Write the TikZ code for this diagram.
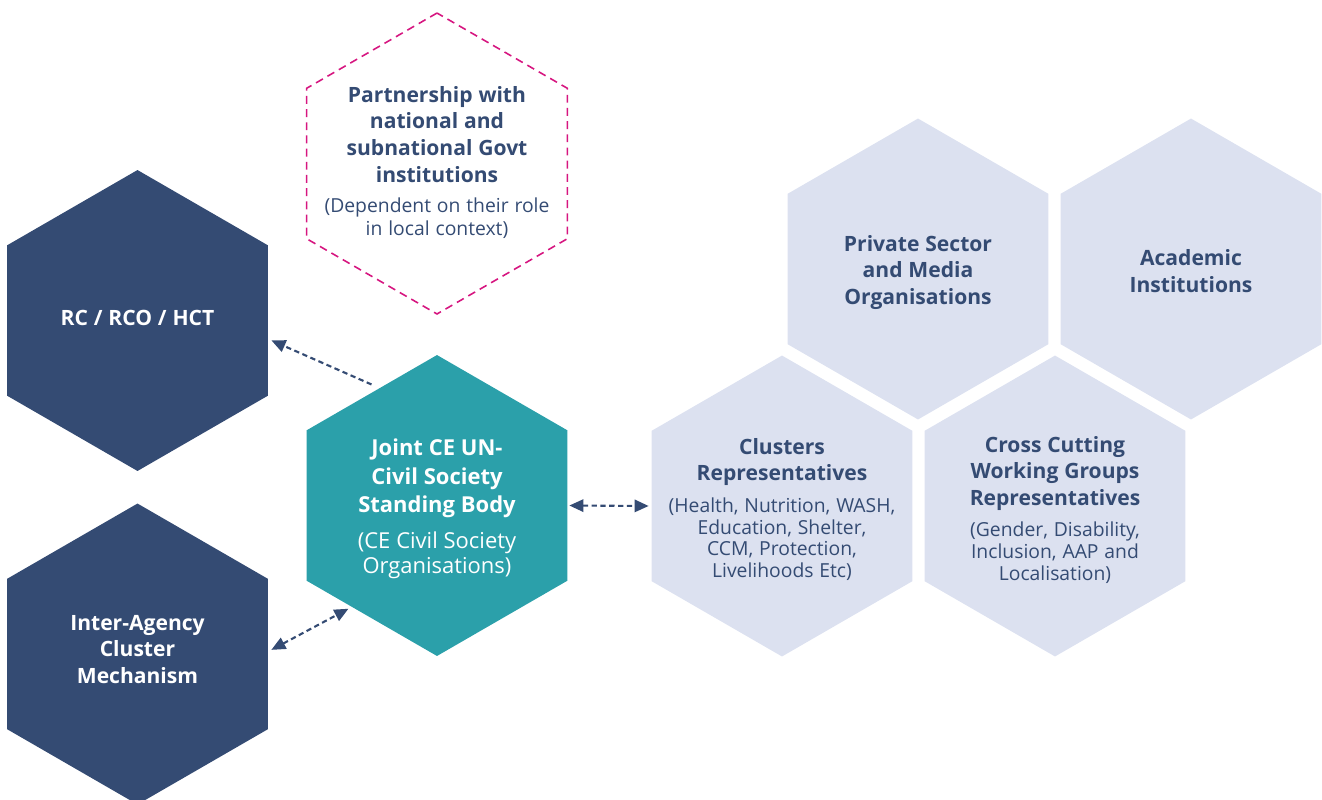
\documentclass[tikz,border=0pt]{standalone}
\usepackage{fontspec}
\setmainfont{Open Sans}
\usetikzlibrary{arrows.meta,shapes.geometric}
\definecolor{hexnavy}{RGB}{52,75,115}
\definecolor{hexteal}{RGB}{43,160,170}
\definecolor{hexpale}{RGB}{220,225,240}
\definecolor{govtpink}{RGB}{214,22,128}
\def\hexsize{6.02cm}
\newcommand\hextitle{\fontsize{12}{15}\selectfont\bfseries}
\newcommand\hexsub{\fontsize{11}{13}\selectfont\mdseries}
\tikzset{
	hex/.style={regular polygon, regular polygon sides=6, shape border rotate=30, minimum size=\hexsize, inner sep=0pt, outer sep=0pt},
	darkhex/.style={hex, fill=hexnavy},
	tealhex/.style={hex, fill=hexteal},
	palehex/.style={hex, fill=hexpale},
	govthex/.style={hex, draw=govtpink, line width=0.9pt, dash pattern=on 4.5pt off 3pt},
	hextxt/.style={text width=4.9cm, align=center, inner sep=0pt, text=hexnavy},
	link/.style={draw=hexnavy, line width=1.2pt, dash pattern=on 3pt off 2pt},
	hextip/.tip={Triangle[length=8pt, width=7pt]}
}

\begin{document}
\begin{tikzpicture}[x=0.02cm, y=-0.02cm]
		%%%%% START %%%%%
		\useasboundingbox (0, 0) rectangle (1322, 799);
		
		% left column
		\node[darkhex] (rc) at (137.5, 320.5) {};
		\node[darkhex] (iacm) at (137.5, 654) {};
		\node[hextxt, text=white] (rc-t) at (137.5, 318) {\hextitle RC / RCO / HCT\par};
		\node[hextxt, text=white] (iacm-t) at (137.5, 649.5) {\hextitle Inter-Agency\\ Cluster\\ Mechanism\par};
		
		% middle column
		\node[govthex] (govt) at (437, 163.5) {};
		\node[tealhex] (joint) at (437, 505.5) {};
		\node[hextxt] (govt-t) at (437, 162.5) {\fontsize{12}{15.2}\selectfont\bfseries Partnership with\\ national and\\ subnational Govt\\ institutions\par\vspace{4.5pt}\hexsub (Dependent on their role\\ in local context)\par};
		\node[hextxt, text=white] (joint-t) at (437, 509) {\fontsize{12.5}{16}\selectfont\bfseries Joint CE UN-\\ Civil Society\\ Standing Body\par\vspace{6.5pt}\fontsize{12.5}{14.2}\selectfont\mdseries (CE Civil Society\\ Organisations)\par};
		
		% right honeycomb
		\node[palehex] (priv) at (918, 269) {};
		\node[palehex] (acad) at (1191, 269) {};
		\node[palehex] (clus) at (782, 506) {};
		\node[palehex] (cross) at (1055, 506) {};
		\node[hextxt] (priv-t) at (918, 272.5) {\hextitle Private Sector\\ and Media\\ Organisations\par};
		\node[hextxt] (acad-t) at (1191, 271) {\hextitle Academic\\ Institutions\par};
		\node[hextxt] (clus-t) at (782, 509.5) {\hextitle Clusters\\ Representatives\par\vspace{5.5pt}\fontsize{11}{12.5}\selectfont\mdseries (Health, Nutrition, WASH,\\ Education, Shelter,\\ CCM, Protection,\\ Livelihoods Etc)\par};
		\node[hextxt] (cross-t) at (1055, 510) {\hextitle Cross Cutting\\ Working Groups\\ Representatives\par\vspace{5.5pt}\fontsize{11}{12.5}\selectfont\mdseries (Gender, Disability,\\ Inclusion, AAP and\\ Localisation)\par};
		
		% links
		\draw[link, -hextip, shorten <=0.18cm, shorten >=0.08cm] (joint.116) -- (rc.-8);
		\draw[link, hextip-hextip, shorten <=0.08cm, shorten >=0.08cm] (iacm.1) -- (joint.230);
		\draw[link, hextip-hextip, shorten <=0.04cm, shorten >=0.06cm] (joint.0) -- (clus.180);
		%%%%% END %%%%%
	\end{tikzpicture}
\end{document}
